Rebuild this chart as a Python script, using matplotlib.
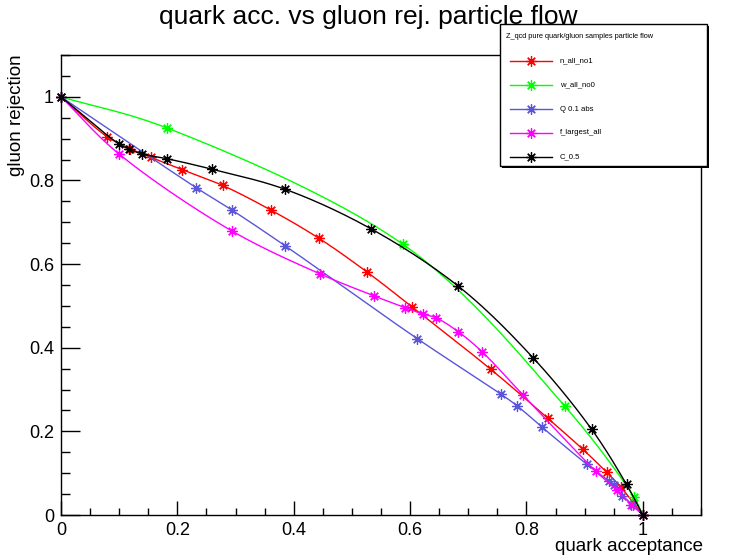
import matplotlib
matplotlib.use("Agg")
import matplotlib.pyplot as plt
import numpy as np
from matplotlib.lines import Line2D
from matplotlib.patches import Rectangle
from matplotlib.ticker import MultipleLocator

plt.rcParams['font.family'] = ['Liberation Sans', 'DejaVu Sans']

# quark acceptance / gluon rejection
n_all_x = [0.0, 0.079, 0.119, 0.155, 0.208, 0.278, 0.361, 0.443, 0.526, 0.603,
           0.739, 0.837, 0.897, 0.938, 0.962, 1.0]
n_all_y = [1.0, 0.905, 0.876, 0.855, 0.826, 0.788, 0.729, 0.662, 0.581, 0.498,
           0.348, 0.231, 0.157, 0.102, 0.067, 0.0]

w_all_x = [0.0, 0.183, 0.587, 0.866, 0.985, 1.0]
w_all_y = [1.0, 0.925, 0.648, 0.260, 0.042, 0.0]

q_abs_x = [0.0, 0.232, 0.294, 0.385, 0.612, 0.756, 0.784, 0.826, 0.904,
           0.942, 0.951, 0.965, 0.983, 1.0]
q_abs_y = [1.0, 0.783, 0.729, 0.644, 0.422, 0.289, 0.261, 0.211, 0.121,
           0.081, 0.071, 0.046, 0.024, 0.0]

f_large_x = [0.0, 0.100, 0.294, 0.446, 0.538, 0.591, 0.623, 0.644, 0.683,
             0.724, 0.794, 0.919, 0.955, 0.980, 1.0]
f_large_y = [1.0, 0.863, 0.679, 0.576, 0.524, 0.496, 0.480, 0.472, 0.438,
             0.390, 0.287, 0.105, 0.060, 0.025, 0.0]

c05_x = [0.0, 0.100, 0.117, 0.140, 0.182, 0.259, 0.385, 0.532, 0.683,
         0.812, 0.912, 0.972, 1.0]
c05_y = [1.0, 0.887, 0.875, 0.863, 0.852, 0.827, 0.779, 0.685, 0.547,
         0.375, 0.205, 0.073, 0.0]

series = [
    ('n_all_no1', n_all_x, n_all_y, '#ff0000'),
    ('w_all_no0', w_all_x, w_all_y, '#00ff00'),
    ('Q 0.1 abs', q_abs_x, q_abs_y, '#5a55d9'),
    ('f_largest_all', f_large_x, f_large_y, '#ff00ff'),
    ('C_0.5', c05_x, c05_y, '#000000'),
]


def smooth_path(xs, ys, n=24):
    """Centripetal Catmull-Rom rendering through the points (like ROOT's "C" option)"""
    p = np.column_stack([xs, ys]).astype(float)
    p = np.vstack([2 * p[0] - p[1], p, 2 * p[-1] - p[-2]])
    out = [p[1]]
    for i in range(1, len(p) - 2):
        p0, p1, p2, p3 = p[i - 1], p[i], p[i + 1], p[i + 2]
        t0 = 0.0
        t1 = t0 + np.linalg.norm(p1 - p0) ** 0.5
        t2 = t1 + np.linalg.norm(p2 - p1) ** 0.5
        t3 = t2 + np.linalg.norm(p3 - p2) ** 0.5
        t = np.linspace(t1, t2, n)[1:, None]
        a1 = (t1 - t) / (t1 - t0) * p0 + (t - t0) / (t1 - t0) * p1
        a2 = (t2 - t) / (t2 - t1) * p1 + (t - t1) / (t2 - t1) * p2
        a3 = (t3 - t) / (t3 - t2) * p2 + (t - t2) / (t3 - t2) * p3
        b1 = (t2 - t) / (t2 - t0) * a1 + (t - t0) / (t2 - t0) * a2
        b2 = (t3 - t) / (t3 - t1) * a2 + (t - t1) / (t3 - t1) * a3
        c = (t2 - t) / (t2 - t1) * b1 + (t - t1) / (t2 - t1) * b2
        out.extend(c)
    out = np.array(out)
    return out[:, 0], out[:, 1]


W, H = 735, 559
fig = plt.figure(figsize=(W / 100, H / 100), dpi=100)
ax = fig.add_axes([61 / W, 1 - 515 / H, 640 / W, 460 / H])

star = (8, 2, 0)
for name, xs, ys, col in series:
    sx, sy = smooth_path(xs, ys)
    ax.plot(sx, sy, color=col, linewidth=1.0, clip_on=False)
    ax.plot(xs, ys, linestyle='none', color=col, marker=star, markersize=7.5,
            markeredgewidth=0.9, clip_on=False)

ax.set_xlim(0, 1.1)
ax.set_ylim(0, 1.1)
ax.xaxis.set_minor_locator(MultipleLocator(0.05))
ax.yaxis.set_minor_locator(MultipleLocator(0.05))
ax.set_xticks([0, 0.2, 0.4, 0.6, 0.8, 1.0])
ax.set_xticklabels(['0', '0.2', '0.4', '0.6', '0.8', '1'])
ax.set_yticks([0, 0.2, 0.4, 0.6, 0.8, 1.0])
ax.set_yticklabels(['0', '0.2', '0.4', '0.6', '0.8', '1'])
ax.tick_params(axis='x', which='major', direction='in', length=10, width=1, labelsize=13, pad=5)
ax.tick_params(axis='x', which='minor', direction='in', length=5, width=1)
ax.tick_params(axis='y', which='major', direction='in', length=13.7, width=1, labelsize=13, pad=5)
ax.tick_params(axis='y', which='minor', direction='in', length=6.8, width=1)
for sp in ax.spines.values():
    sp.set_linewidth(1.0)

fig.text(368 / W, 1 - 24 / H, 'quark acc. vs gluon rej. particle flow',
         fontsize=19, ha='center', va='baseline')
fig.text(703 / W, 1 - 551 / H, 'quark acceptance', fontsize=13.5,
         ha='right', va='baseline')
fig.text(17 / W, 1 - 54 / H, 'gluon rejection', fontsize=13.5,
         rotation=90, ha='center', va='top')

# legend box in ROOT style, with a thin shadow
lx0, ly0, lx1, ly1 = 500, 24, 707, 166
shadow = Rectangle(((lx0 + 2) / W, 1 - (ly1 + 2) / H), (lx1 - lx0) / W, (ly1 - ly0) / H,
                   transform=fig.transFigure, facecolor='black', edgecolor='none')
box = Rectangle((lx0 / W, 1 - ly1 / H), (lx1 - lx0) / W, (ly1 - ly0) / H,
                transform=fig.transFigure, facecolor='white', edgecolor='black',
                linewidth=1.0)
fig.patches.extend([shadow, box])
fig.text(506 / W, 1 - 36 / H, 'Z_qcd pure quark/gluon samples particle flow',
         fontsize=5.3, ha='left', va='center')
for i, (name, xs, ys, col) in enumerate(series):
    yy = 1 - (61 + 24 * i) / H
    fig.lines.append(Line2D([510 / W, 552 / W], [yy, yy], transform=fig.transFigure,
                            color=col, linewidth=1.0))
    fig.lines.append(Line2D([531 / W], [yy], transform=fig.transFigure, color=col,
                            marker=star, markersize=7.5, markeredgewidth=0.9))
    fig.text(560 / W, yy, name, fontsize=5.6, ha='left', va='center')

fig.savefig('out.png', dpi=100)
